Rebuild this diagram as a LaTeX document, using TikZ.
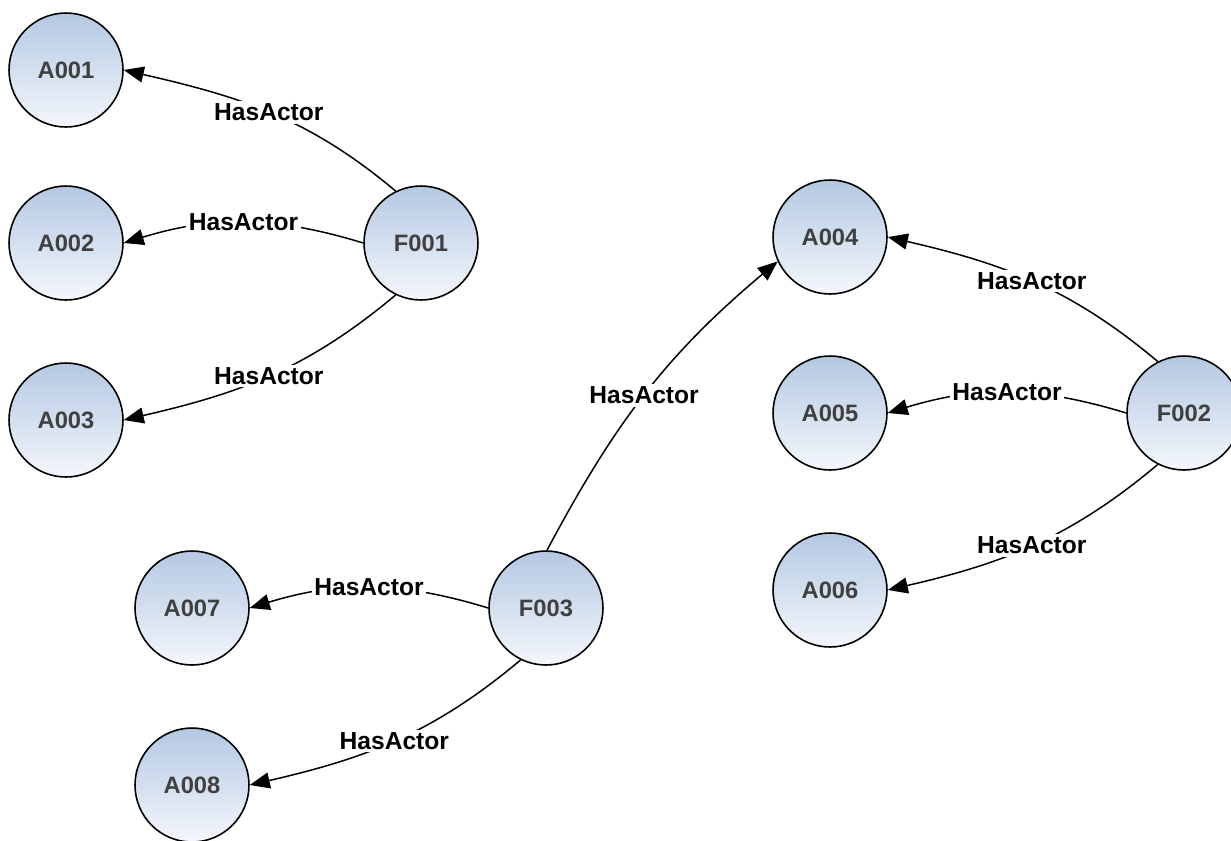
\documentclass[tikz,border=0pt]{standalone}
\usepackage{fontspec}
\setmainfont{Liberation Sans}
\usetikzlibrary{arrows.meta}
\definecolor{nodetop}{RGB}{180,200,226}
\definecolor{nodebot}{RGB}{244,247,252}
\definecolor{nodetext}{RGB}{64,64,64}
\begin{document}
\begin{tikzpicture}[x=0.02cm, y=0.02cm,
    item/.style={circle, draw, line width=0.9pt, minimum size=2.28cm, inner sep=0pt,
        top color=nodetop, bottom color=nodebot, text=nodetext,
        font=\bfseries\fontsize{13.5}{15}\selectfont},
    rel/.style={-{Triangle[length=0.4cm, width=0.32cm]}, line width=0.85pt},
    lbl/.style={fill=white, inner sep=1.5pt, font=\bfseries\fontsize{14}{16}\selectfont}]
        \useasboundingbox (0,0) rectangle (1231,-840);
        % films
        \node at (421,-243) (F1) [item] {F001};
        \node at (1184,-413) (F2) [item] {F002};
        \node at (546,-608) (F3) [item] {F003};
        % actors
        \node at (66,-70) (A1) [item] {A001};
        \node at (66,-243) (A2) [item] {A002};
        \node at (66,-420) (A3) [item] {A003};
        \node at (830,-237) (A4) [item] {A004};
        \node at (830,-413) (A5) [item] {A005};
        \node at (830,-590) (A6) [item] {A006};
        \node at (192,-608) (A7) [item] {A007};
        \node at (192,-785) (A8) [item] {A008};
        % edges
        \draw[rel] (F1.116) to[out=140, in=-13] node[lbl] {HasActor} (A1.east);
        \draw[rel] (F1.west) to[out=163, in=17] node[lbl] {HasActor} (A2.east);
        \draw[rel] (F1.-116) to[out=-140, in=13] node[lbl] {HasActor} (A3.east);
        \draw[rel] (F2.117) to[out=140, in=-13] node[lbl] {HasActor} (A4.east);
        \draw[rel] (F2.west) to[out=163, in=17] node[lbl] {HasActor} (A5.east);
        \draw[rel] (F2.-117) to[out=-140, in=13] node[lbl] {HasActor} (A6.east);
        \draw[rel] (F3.89) to[out=62, in=220] node[lbl, pos=0.49] {HasActor} (A4.205);
        \draw[rel] (F3.west) to[out=163, in=17] node[lbl] {HasActor} (A7.east);
        \draw[rel] (F3.-116) to[out=-140, in=13] node[lbl] {HasActor} (A8.east);
\end{tikzpicture}
\end{document}
